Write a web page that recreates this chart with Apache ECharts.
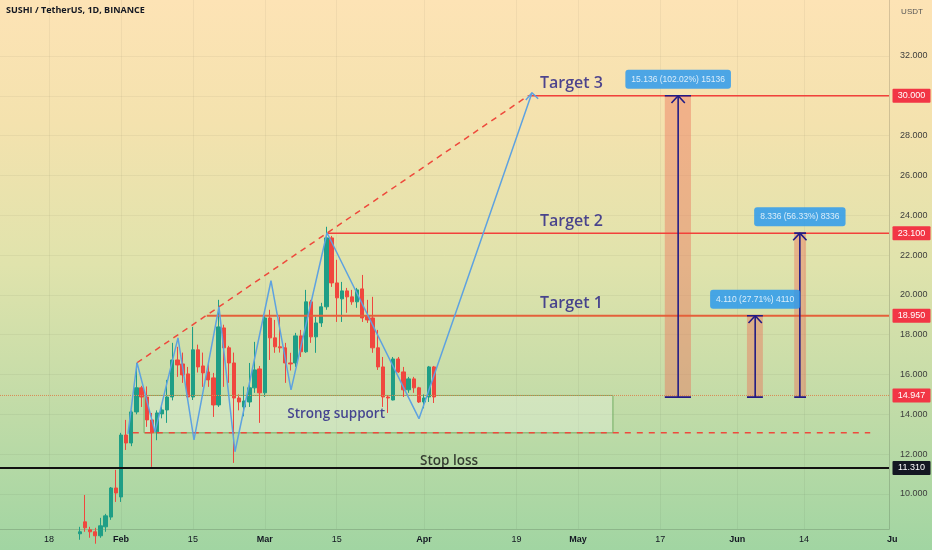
<!DOCTYPE html>
<html><head><meta charset="utf-8">
<script src="https://cdn.jsdelivr.net/npm/echarts@6/dist/echarts.min.js"></script>
<style>
html,body{margin:0;padding:0;}
#c{width:932px;height:550px;background:linear-gradient(to bottom,#fde3b5 0%,#f4e2ae 22%,#e0e3ac 48%,#c4dca8 72%,#a1d5a2 100%);}
</style></head><body><div id="c"></div>
<script>
// ---------- data ----------
const dates = ['2021-01-24','2021-01-25','2021-01-26','2021-01-27','2021-01-28','2021-01-29','2021-01-30','2021-01-31',
'2021-02-01','2021-02-02','2021-02-03','2021-02-04','2021-02-05','2021-02-06','2021-02-07','2021-02-08','2021-02-09','2021-02-10',
'2021-02-11','2021-02-12','2021-02-13','2021-02-14','2021-02-15','2021-02-16','2021-02-17','2021-02-18','2021-02-19','2021-02-20',
'2021-02-21','2021-02-22','2021-02-23','2021-02-24','2021-02-25','2021-02-26','2021-02-27','2021-02-28',
'2021-03-01','2021-03-02','2021-03-03','2021-03-04','2021-03-05','2021-03-06','2021-03-07','2021-03-08','2021-03-09','2021-03-10',
'2021-03-11','2021-03-12','2021-03-13','2021-03-14','2021-03-15','2021-03-16','2021-03-17','2021-03-18','2021-03-19','2021-03-20',
'2021-03-21','2021-03-22','2021-03-23','2021-03-24','2021-03-25','2021-03-26','2021-03-27','2021-03-28','2021-03-29','2021-03-30','2021-03-31',
'2021-04-01','2021-04-02','2021-04-03'];
const open = [8.00,8.60,8.20,8.10,7.90,8.35,8.84,10.30,
9.85,12.96,12.56,14.12,15.33,14.87,13.72,13.12,14.02,14.22,14.87,16.73,16.53,16.03,14.87,17.24,16.43,16.13,15.83,14.47,18.34,17.34,16.58,14.82,14.37,14.62,15.33,16.28,
15.08,18.84,17.84,17.39,17.34,16.58,16.58,17.94,17.14,19.65,17.89,18.59,19.40,22.86,20.60,19.80,20.20,19.90,19.65,20.30,18.95,18.84,17.34,16.38,14.87,14.72,16.78,16.13,15.23,15.78,15.33,
14.62,14.87,16.38];
const close = [8.10,8.30,8.10,7.90,8.40,8.90,10.30,10.05,
12.96,12.56,14.12,15.33,14.87,13.72,13.07,14.07,14.22,14.87,16.73,16.48,15.98,14.87,17.24,16.38,16.08,15.73,14.47,18.39,17.34,16.58,14.82,14.62,14.67,15.33,16.23,15.08,
18.84,17.84,17.39,17.34,16.58,16.53,17.94,17.14,19.65,17.89,18.59,19.40,22.86,20.60,19.85,20.20,19.90,19.65,20.25,18.84,18.74,17.34,16.38,14.87,14.82,16.78,16.13,15.23,15.78,15.33,14.62,
14.82,16.38,14.87];
const low = [7.70,8.10,7.80,7.50,7.80,8.10,8.70,9.60,
9.60,12.21,12.40,14.00,14.37,13.37,11.36,12.70,13.80,13.57,14.70,15.88,15.58,14.72,14.72,16.10,15.38,15.38,13.87,14.37,15.38,15.58,11.56,14.20,13.90,14.37,15.08,13.57,
14.87,16.73,17.09,17.10,15.58,16.20,16.38,16.88,17.09,17.59,17.09,18.39,19.25,20.40,18.64,18.64,19.10,19.50,19.35,18.64,18.59,17.09,16.23,14.37,14.07,14.70,16.08,14.87,15.08,15.08,14.57,
14.30,14.62,14.57];
const high = [8.35,9.95,8.35,8.30,8.80,9.00,10.35,11.21,
13.07,13.72,14.20,16.58,15.43,15.40,14.07,14.20,14.40,15.73,17.59,17.39,17.10,16.38,18.39,17.50,17.10,16.58,16.08,19.75,18.50,17.44,17.10,15.00,15.40,16.58,17.64,16.43,
18.95,19.25,18.74,18.90,17.59,17.09,18.09,18.24,20.25,19.75,18.90,19.60,23.42,22.96,21.76,20.65,20.35,20.25,20.35,21.00,19.75,19.90,18.24,16.88,14.95,16.88,16.88,16.38,15.88,15.88,15.38,
15.00,16.43,16.43];

// axis ticks
const xTickDates = ['2021-01-18','2021-02-01','2021-02-15','2021-03-01','2021-03-15','2021-04-01','2021-04-19','2021-05-01','2021-05-17','2021-06-01','2021-06-14'];
const xTickLabels = ['18','Feb','15','Mar','15','Apr','19','May','17','Jun','14'];
const xTickIsMonth = [false,true,false,true,false,true,false,true,false,true,false];
const yTicks = [10,12,14,16,18,20,22,24,26,28,30,32];

// drawings (x in days after 2021-02-01, y in USDT)
const targetPrices = [30.0, 23.1, 18.95];
const targetNames = ['Target 3','Target 2','Target 1'];
const targetLineStartDay = [79.3, 40.1, 16.7];
const targetTextDay = 81.6;
const currentPrice = 14.947;
const stopLoss = 11.31;
const supportLow = 13.07;
const supportBoxDays = [4.5, 95.8];
const supportDashDays = [2.3, 145.9];
const trendDays = [3.12, 79.3];
const trendPrices = [16.59, 30.0];
const zigDays = [1.36, 3.12, 6.62, 11.10, 14.22, 19.08, 22.20, 29.21, 33.11, 40.12, 58.03, 80.04];
const zigPrices = [13.02, 16.59, 13.12, 17.84, 12.72, 19.40, 12.12, 20.71, 15.23, 23.12, 13.78, 30.15];
const measureBase = 14.864;
const measureDays = [[105.9, 111.0], [121.9, 125.0], [131.1, 133.4]];
const measureArrowDay = [108.5, 123.5, 132.2];
const measureTop = [30.0, 18.95, 23.1];
const measureLabels = ['15.136 (102.02%) 15136', '4.110 (27.71%) 4110', '8.336 (56.33%) 8336'];
const badgeValues = [30.0, 23.1, 18.95, 14.947, 11.31];
const badgeColors = ['#f23645','#f23645','#f23645','#f23645','#131722'];

// ---------- build ----------
const D0 = Date.parse('2021-02-01');
const toDay = s => (Date.parse(s) - D0) / 86400000;
const X_MIN = -23.56, X_MAX = 149.56, Y_MIN = 8.24, Y_MAX = 34.81;
const tickDays = xTickDates.map(toDay);
const candles = dates.map((d, i) => [toDay(d), open[i], close[i], low[i], high[i]]);

const NAVY = '#221b85';
const base = {type:'line', symbol:'none', silent:true, animation:false};
const series = [];

// support dashed line + support box
series.push(Object.assign({}, base, {
  data: [[supportDashDays[0], supportLow], [supportDashDays[1], supportLow]],
  lineStyle: {color:'#ee4a3c', width:1.5, type:[6,6]},
  markArea: {silent:true, itemStyle:{color:'rgba(255,255,255,0.26)', borderColor:'#72ad62', borderWidth:1},
    data: [[{coord:[supportBoxDays[0], supportLow]}, {coord:[supportBoxDays[1], currentPrice]}]]}
}));
// measurement boxes (behind)
series.push(Object.assign({}, base, {
  data: [[measureDays[0][0], measureBase], [measureDays[0][0], measureBase]],
  lineStyle: {width:0},
  markArea: {silent:true, itemStyle:{color:'rgba(236,110,86,0.42)'},
    data: measureDays.map((d, i) => [{coord:[d[0], measureBase]}, {coord:[d[1], measureTop[i]]}])}
}));
// current price dotted line
series.push(Object.assign({}, base, {
  data: [[X_MIN, currentPrice], [X_MAX, currentPrice]],
  lineStyle: {color:'#d98a55', width:1, type:'dotted'}
}));
// candles
series.push({
  type:'candlestick', animation:false, silent:true, clip:true,
  data: candles, encode:{x:0, y:[1,2,3,4]},
  barWidth: 3.8,
  itemStyle: {color:'#1f9e86', color0:'#f0473e', borderColor:'#1f9e86', borderColor0:'#f0473e', borderWidth:1}
});
// target lines
targetPrices.forEach((p, i) => {
  series.push(Object.assign({}, base, {
    data: [[targetLineStartDay[i], p], [X_MAX, p]],
    lineStyle: {color: i === 2 ? '#e4603a' : '#f2413a', width: i === 2 ? 2 : 1.5}
  }));
});
// stop loss line
series.push(Object.assign({}, base, {
  data: [[X_MIN, stopLoss], [X_MAX, stopLoss]],
  lineStyle: {color:'#111', width:2}
}));
// trend dashed diagonal
series.push(Object.assign({}, base, {
  data: trendDays.map((d, i) => [d, trendPrices[i]]),
  lineStyle: {color:'#ee4a3c', width:1.5, type:[6,5]}
}));
// zigzag
series.push(Object.assign({}, base, {
  data: zigDays.map((d, i) => [d, zigPrices[i]]),
  lineStyle: {color:'#5ea2e0', width:1.5}
}));
// zigzag arrow head
const zl = zigDays.length - 1;
series.push(Object.assign({}, base, {
  data: [[zigDays[zl] - 1.2, zigPrices[zl] - 0.36], [zigDays[zl], zigPrices[zl]], [zigDays[zl] + 1.2, zigPrices[zl] - 0.3]],
  lineStyle: {color:'#5ea2e0', width:1.5}
}));
// measurement arrows
measureDays.forEach((d, i) => {
  const mx = measureArrowDay[i], top = measureTop[i];
  const ls = {color: NAVY, width:1.6};
  series.push(Object.assign({}, base, {data:[[mx, measureBase],[mx, top]], lineStyle: ls}));
  series.push(Object.assign({}, base, {data:[[d[0], top],[d[1], top]], lineStyle: ls}));
  series.push(Object.assign({}, base, {data:[[d[0], measureBase],[d[1], measureBase]], lineStyle: ls}));
  series.push(Object.assign({}, base, {data:[[mx - 1.3, top - 0.36],[mx, top],[mx + 1.3, top - 0.36]], lineStyle: ls}));
});
// texts
const txt = [];
targetPrices.forEach((p, i) => txt.push({value:[targetTextDay, p], label:{show:true, position:'right', distance:0, offset:[0,-12],
  formatter: targetNames[i], color: NAVY, fontSize:16, fontWeight:600, fontFamily:'Open Sans'}}));
txt.push({value:[41.9, 13.99], label:{show:true, position:'inside', formatter:'Strong support', color: NAVY, fontSize:13.5, fontWeight:600, fontFamily:'Open Sans'}});
txt.push({value:[63.9, 11.66], label:{show:true, position:'inside', formatter:'Stop loss', color:'#111', fontSize:13.5, fontWeight:600, fontFamily:'Open Sans'}});
measureLabels.forEach((t, i) => txt.push({value:[measureArrowDay[i], measureTop[i]], label:{show:true, position:'top', distance:7,
  formatter:t, color:'#fff', fontSize:8.5, fontFamily:'Liberation Sans', backgroundColor:'#2196f3', borderRadius:3, padding:[5,6]}}));
series.push({type:'scatter', silent:true, animation:false, symbolSize:0, itemStyle:{color:'transparent'}, data: txt, z:5});

const gridColor = 'rgba(0,0,0,0.045)';
const option = {
  animation:false,
  backgroundColor:'transparent',
  grid:{left:0, right:43, top:0, bottom:21, containLabel:false},
  xAxis:{type:'value', min:X_MIN, max:X_MAX,
    axisLine:{show:true, onZero:false, lineStyle:{color:'rgba(0,0,0,0.15)'}},
    axisTick:{show:false, customValues: tickDays},
    splitLine:{show:true, lineStyle:{color:gridColor}},
    axisLabel:{customValues: tickDays, margin:6, fontSize:9, color:'#131722', fontFamily:'Liberation Sans',
      formatter: v => { const k = tickDays.findIndex(t => Math.abs(t - v) < 0.01); if (k < 0) return '';
        return xTickIsMonth[k] ? '{b|' + xTickLabels[k] + '}' : xTickLabels[k]; },
      rich:{b:{fontWeight:'bold', fontSize:9, color:'#131722'}}}
  },
  yAxis:{type:'value', position:'right', min:Y_MIN, max:Y_MAX, scale:true,
    axisLine:{show:true, onZero:false, lineStyle:{color:'rgba(0,0,0,0.15)'}},
    axisTick:{show:false, customValues: yTicks},
    splitLine:{show:true, lineStyle:{color:gridColor}},
    axisLabel:{customValues: yTicks, margin:11, fontSize:9, color:'#3d3d3d', fontFamily:'Liberation Sans', formatter: v => v.toFixed(3)}
  },
  series: series
};
const chart = echarts.init(document.getElementById('c'), null, {renderer:'canvas'});
chart.setOption(option);

const graphics = [
  {type:'text', x:6, y:6, z:100, style:{text:'SUSHI / TetherUS, 1D, BINANCE', fontSize:9, fontWeight:'bold', fontFamily:'Open Sans', fill:'#131722'}},
  {type:'text', x:912, y:12, z:100, style:{text:'USDT', fontSize:8, fontFamily:'Liberation Sans', fill:'#555', align:'center', verticalAlign:'middle'}},
  {type:'text', x:887, y:540, z:100, style:{text:'Ju', fontSize:9, fontWeight:'bold', fontFamily:'Liberation Sans', fill:'#131722', verticalAlign:'middle'}}
];
badgeValues.forEach((v, i) => {
  const y = chart.convertToPixel({yAxisIndex:0}, v);
  graphics.push({type:'rect', z:100, shape:{x:892.5, y:y - 7, width:38, height:14, r:1}, style:{fill:badgeColors[i]}});
  graphics.push({type:'text', z:101, x:911.5, y:y, style:{text:v.toFixed(3), fontSize:9, fontFamily:'Liberation Sans', fill:'#fff', align:'center', verticalAlign:'middle'}});
});
chart.setOption({graphic: graphics});
</script></body></html>
